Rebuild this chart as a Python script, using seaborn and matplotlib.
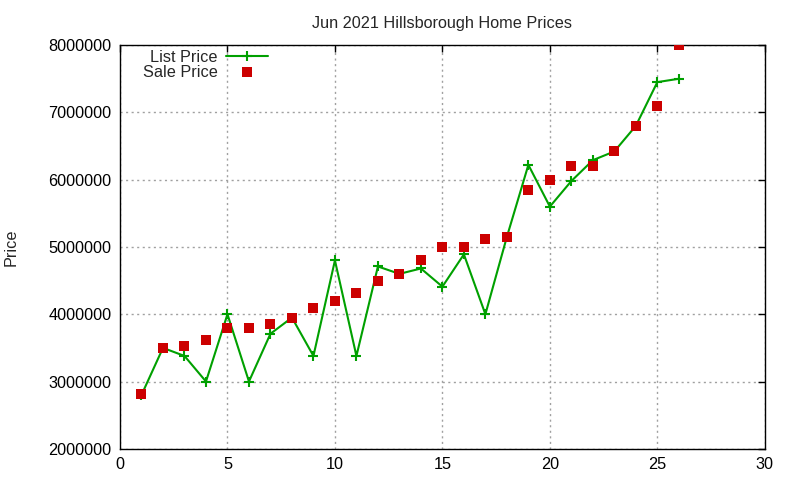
import seaborn as sns
import matplotlib.pyplot as plt
import pandas as pd

# Values (gnuplot style chart)
listing = list(range(1, 27))
list_price = [2800000, 3500000, 3380000, 3000000, 4000000, 3000000, 3710000,
              3950000, 3380000, 4800000, 3380000, 4710000, 4600000, 4680000,
              4410000, 4890000, 4000000, 5150000, 6220000, 5600000, 5980000,
              6290000, 6420000, 6800000, 7450000, 7500000]
sale_price = [2820000, 3500000, 3530000, 3610000, 3800000, 3800000, 3860000,
              3950000, 4090000, 4200000, 4320000, 4500000, 4600000, 4810000,
              5000000, 5000000, 5120000, 5150000, 5850000, 6000000, 6200000,
              6200000, 6430000, 6800000, 7100000, 8000000]
x_ticks = [0, 5, 10, 15, 20, 25, 30]
y_ticks = [2000000, 3000000, 4000000, 5000000, 6000000, 7000000, 8000000]

df = pd.DataFrame({'n': listing, 'List Price': list_price, 'Sale Price': sale_price})

sns.set_style("white")
plt.rcParams['font.family'] = ['Liberation Sans', 'DejaVu Sans']
fs = 11.7

fig, ax = plt.subplots(figsize=(8, 4.8), dpi=100)
fig.subplots_adjust(left=0.15, right=0.956, top=0.906, bottom=0.065)

sns.lineplot(data=df, x='n', y='List Price', ax=ax, color='#00a000',
             linewidth=1.5, marker='+', markersize=7, markeredgewidth=1.5,
             markeredgecolor='#00a000', label='List Price')
sns.scatterplot(data=df, x='n', y='Sale Price', ax=ax, color='#cc0000',
                marker='s', s=42, linewidth=0, label='Sale Price', zorder=3)

ax.set_xlim(0, 30)
ax.set_ylim(2000000, 8000000)
ax.set_xticks(x_ticks)
ax.set_yticks(y_ticks)
ax.set_xticklabels([str(t) for t in x_ticks])
ax.set_yticklabels([str(t) for t in y_ticks])
ax.tick_params(direction='in', length=5, width=1, top=True, right=True,
               labelsize=fs, colors='black', pad=6)
for sp in ax.spines.values():
    sp.set_color('black')
    sp.set_linewidth(1)
ax.grid(True, linestyle=(0, (1.5, 2.5)), color='#a0a0a0', linewidth=1)
ax.set_axisbelow(True)

ax.set_xlabel('')
ax.set_ylabel('Price', fontsize=fs)
ax.yaxis.set_label_coords(-0.157, 0.5)
ax.set_title('Jun 2021 Hillsborough Home Prices', fontsize=fs, pad=12)

ax.legend(loc='upper left', frameon=False, markerfirst=False, fontsize=fs,
          handlelength=2.6, handletextpad=0.5, labelspacing=0.0,
          borderaxespad=0.0, bbox_to_anchor=(0.025, 1.005))

fig.savefig('out.png', dpi=100)
